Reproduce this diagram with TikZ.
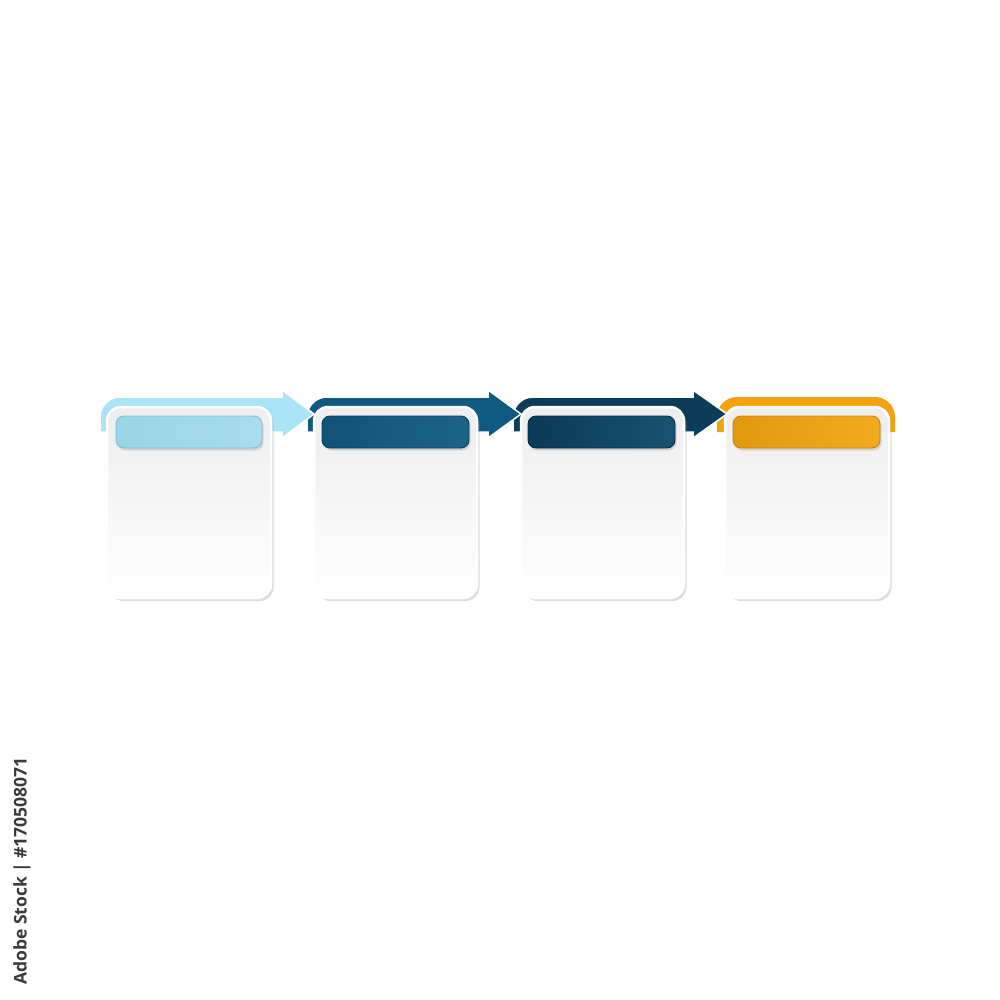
\documentclass[tikz,border=0pt]{standalone}
\usepackage{fontspec}
\setmainfont{Open Sans}
\usetikzlibrary{shadows,calc}
\definecolor{ablue}{HTML}{A8E4F5}
\definecolor{bblue}{HTML}{0E5A80}
\definecolor{cblue}{HTML}{0B3D5A}
\definecolor{dorange}{HTML}{F4A30A}
\definecolor{hA1}{HTML}{A9DDEB}\definecolor{hA2}{HTML}{98D5E6}\definecolor{hAd}{HTML}{7DBFD2}
\definecolor{hB1}{HTML}{0F5478}\definecolor{hB2}{HTML}{1B6487}\definecolor{hBd}{HTML}{0A3E5A}
\definecolor{hC1}{HTML}{0A3A56}\definecolor{hC2}{HTML}{175473}\definecolor{hCd}{HTML}{072B40}
\definecolor{hD1}{HTML}{E19A10}\definecolor{hD2}{HTML}{F2AA1E}\definecolor{hDd}{HTML}{C7850A}
\definecolor{credit}{HTML}{3A3A3A}
\tikzset{
  band/.style={draw=white, line width=1.5pt},
  card/.style={rounded corners=14pt, top color=black!7, bottom color=white,
    draw=white, line width=2.5pt,
    drop shadow={shadow xshift=2.5pt, shadow yshift=-3pt, opacity=0.3, fill=black!45}},
  header/.style={rounded corners=8pt, line width=0.9pt,
    drop shadow={shadow xshift=1.5pt, shadow yshift=-2.5pt, opacity=0.25, fill=black!50}},
}
\begin{document}
\begin{tikzpicture}[x=1pt,y=-1pt]
\useasboundingbox (0,0) rectangle (1000,1000);
\fill[white] (0,0) rectangle (1000,1000);
% band 4 (orange, no head)
\fill[dorange] (717,432) -- (717,417) arc(180:270:20) -- (875,397) arc(270:360:20) -- (895,432) -- cycle;
% arrow 3
\path[band, fill=cblue] (513,432) -- (513,417) arc(180:270:20) -- (693,397) -- (693,390) -- (727,414) -- (693,438) -- (693,432) -- cycle;
% arrow 2
\path[band, fill=bblue] (307,432) -- (307,417) arc(180:270:20) -- (488,397) -- (488,390) -- (521,414) -- (488,438) -- (488,432) -- cycle;
% arrow 1
\path[band, fill=ablue] (100,432) -- (100,417) arc(180:270:20) -- (282,397) -- (282,390) -- (314,414) -- (282,438) -- (282,432) -- cycle;
% cards
\path[card] (107,407) rectangle (271,598) node[pos=0.5] (c1) {};
\path[card] (314,407) rectangle (477,598) node[pos=0.5] (c2) {};
\path[card] (521,407) rectangle (684,598) node[pos=0.5] (c3) {};
\path[card] (725,407) rectangle (889,598) node[pos=0.5] (c4) {};
% headers
\path[header, left color=hA2, right color=hA1, draw=hAd] (116,416) rectangle (262,448) node[pos=0.5] (h1) {};
\path[header, left color=hB1, right color=hB2, draw=hBd] (322,416) rectangle (469,448) node[pos=0.5] (h2) {};
\path[header, left color=hC1, right color=hC2, draw=hCd] (528,416) rectangle (675,448) node[pos=0.5] (h3) {};
\path[header, left color=hD1, right color=hD2, draw=hDd] (733,416) rectangle (880,448) node[pos=0.5] (h4) {};
% credit
\node[rotate=90, text=credit, font=\fontsize{17.5}{17.5}\selectfont\bfseries, inner sep=0pt] (credit) at (22,871) {Adobe Stock | \#170508071};
\end{tikzpicture}
\end{document}
